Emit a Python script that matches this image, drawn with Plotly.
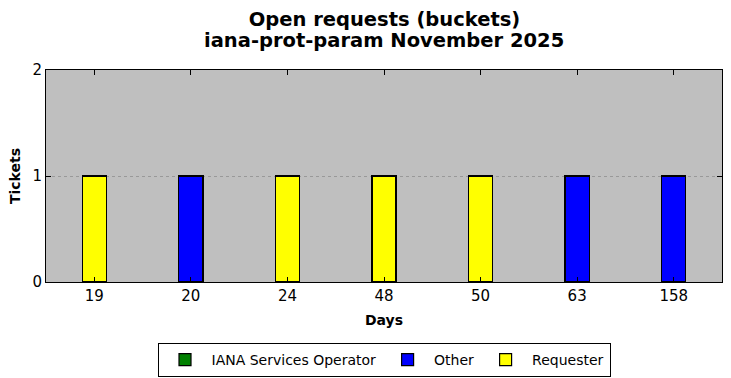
import plotly.graph_objects as go

days = ["19", "20", "24", "48", "50", "63", "158"]
iana_ops = [0, 0, 0, 0, 0, 0, 0]
other = [0, 1, 0, 0, 0, 1, 1]
requester = [1, 0, 1, 1, 1, 0, 0]

title_line1 = "Open requests (buckets)"
title_line2 = "iana-prot-param November 2025"

series = [
    ("IANA Services Operator", iana_ops, "#008000"),
    ("Other", other, "#0000ff"),
    ("Requester", requester, "#ffff00"),
]

fig = go.Figure()
for name, vals, color in series:
    fig.add_trace(go.Bar(
        x=days, y=vals, name=name, width=0.25,
        marker=dict(color=color, line=dict(color="black", width=1.2)),
    ))

font = "DejaVu Sans"
fig.update_layout(
    width=731, height=378,
    barmode="stack",
    paper_bgcolor="white", plot_bgcolor="#bfbfbf",
    margin=dict(l=46, r=9, t=70, b=96, autoexpand=False),
    font=dict(family=font, color="black", size=15),
    title=dict(
        text=f"<b>{title_line1}</b>",
        x=0.526, xanchor="center", yref="container", y=1 - 19 / 378, yanchor="middle",
        font=dict(size=19.5, family=font),
    ),
    legend=dict(
        orientation="h", x=0.5, xanchor="center", yref="container",
        y=1 - 343 / 378, yanchor="top",
        bordercolor="black", borderwidth=1, font=dict(size=14),
        traceorder="normal", itemwidth=43,
    ),
    xaxis=dict(
        type="category", showline=True, linecolor="black", linewidth=1,
        mirror="ticks", ticks="inside", ticklen=5, tickcolor="black",
        showgrid=False, automargin=False,
        title=dict(text="<b>Days</b>", font=dict(size=14), standoff=11),
        tickfont=dict(size=15),
    ),
    yaxis=dict(
        range=[0, 2], tickvals=[0, 1, 2], showline=True, linecolor="black",
        linewidth=1, mirror="ticks", ticks="inside", ticklen=5, tickcolor="black",
        showgrid=True, gridcolor="#999999", griddash="dot", gridwidth=1,
        zeroline=False, automargin=False,
        title=dict(text="<b>Tickets</b>", font=dict(size=14), standoff=8),
        tickfont=dict(size=15),
    ),
    annotations=[dict(
        text=f"<b>{title_line2}</b>", xref="paper", x=0.5, xanchor="center",
        yref="paper", y=1 + (70 - 41) / 212, yanchor="middle", showarrow=False,
        font=dict(size=19.5, family=font),
    )],
)

fig.write_html(
    "out.html",
    config={"responsive": False, "displayModeBar": False},
    post_script="document.body.style.margin='0';document.body.style.overflow='hidden';",
)
